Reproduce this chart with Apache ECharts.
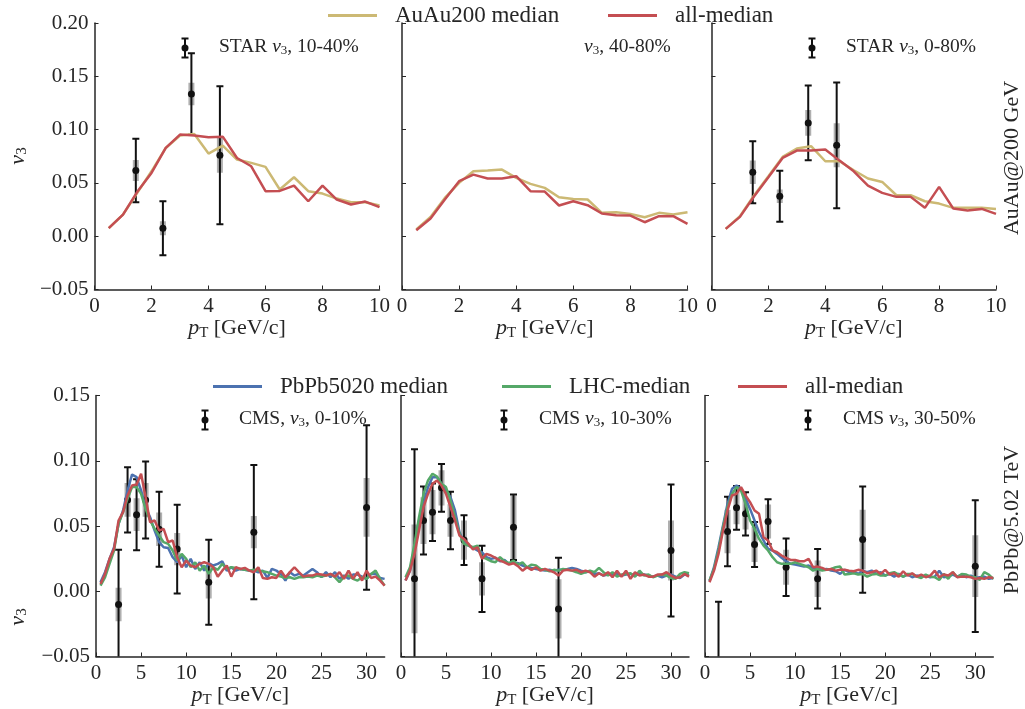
<!DOCTYPE html>
<html>
<head>
<meta charset="utf-8">
<script src="https://cdn.jsdelivr.net/npm/echarts@6/dist/echarts.min.js"></script>
<style>
  html, body { margin: 0; background: #fff; }
  #chart { width: 1025px; height: 709px; }
</style>
</head>
<body>
<div id="chart"></div>
<script>
'use strict';
// DATA
const ptRhic = [0.5, 1, 1.5, 2, 2.5, 3, 3.5, 4, 4.5, 5, 5.5, 6, 6.5, 7, 7.5, 8, 8.5, 9, 9.5, 10];
const auau1040 = [0.0075, 0.0203, 0.0406, 0.0609, 0.0828, 0.0944, 0.0959, 0.0775, 0.0850, 0.0719,
  0.0688, 0.0650, 0.0438, 0.0553, 0.0422, 0.0400, 0.0353, 0.0319, 0.0319, 0.0288];
const all1040 = [0.0075, 0.0203, 0.0416, 0.0594, 0.0828, 0.0953, 0.0944, 0.0928, 0.0934, 0.0734,
  0.0656, 0.0422, 0.0425, 0.0475, 0.0328, 0.0475, 0.0344, 0.0297, 0.0325, 0.0272];
const auau4080 = [0.0063, 0.0181, 0.0359, 0.0500, 0.0609, 0.0616, 0.0625, 0.0547, 0.0491, 0.0453,
  0.0366, 0.0350, 0.0344, 0.0219, 0.0225, 0.0209, 0.0178, 0.0219, 0.0203, 0.0225];
const all4080 = [0.0056, 0.0166, 0.0344, 0.0516, 0.0578, 0.0541, 0.0541, 0.0563, 0.0422, 0.0419,
  0.0288, 0.0328, 0.0291, 0.0213, 0.0197, 0.0194, 0.0131, 0.0188, 0.0188, 0.0116];
const auau080 = [0.0069, 0.0188, 0.0384, 0.0563, 0.0744, 0.0822, 0.0844, 0.0703, 0.0703, 0.0619,
  0.0541, 0.0509, 0.0384, 0.0384, 0.0328, 0.0306, 0.0266, 0.0266, 0.0266, 0.0256];
const all080 = [0.0069, 0.0181, 0.0375, 0.0553, 0.0734, 0.0803, 0.0803, 0.0813, 0.0709, 0.0609,
  0.0475, 0.0406, 0.0369, 0.0369, 0.0266, 0.0463, 0.0259, 0.0241, 0.0256, 0.0209];

const starPt = [1.45, 2.4, 3.4, 4.4];
const star1040 = [0.0616, 0.0075, 0.1334, 0.0759];
const star1040Stat = [0.0298, 0.0253, 0.0383, 0.0647];
const star1040Sys = [0.0098, 0.0066, 0.0106, 0.0164];
const star080 = [0.0600, 0.0375, 0.1063, 0.0853];
const star080Stat = [0.0290, 0.0240, 0.0350, 0.0590];
const star080Sys = [0.0110, 0.0063, 0.0120, 0.0206];

const ptLhc = [0.5, 1, 1.5, 2, 2.5, 3, 3.5, 4, 4.5, 5, 5.5, 6, 6.5, 7, 7.5, 8, 8.5, 9, 9.5, 10,
  10.5, 11, 11.5, 12, 12.5, 13, 13.5, 14, 14.5, 15, 15.5, 16, 16.5, 17, 17.5, 18, 18.5, 19, 19.5, 20,
  20.5, 21, 21.5, 22, 22.5, 23, 23.5, 24, 24.5, 25, 25.5, 26, 26.5, 27, 27.5, 28, 28.5, 29, 29.5, 30,
  30.5, 31, 31.5, 32];
const pb010 = [0.0069, 0.0146, 0.0248, 0.0337, 0.0516, 0.0619, 0.0772, 0.0895, 0.0874, 0.0772,
  0.0644, 0.0567, 0.0465, 0.0376, 0.0337, 0.0332, 0.0261, 0.0222, 0.0274, 0.0184,
  0.0248, 0.0171, 0.0222, 0.0158, 0.0215, 0.0197, 0.0210, 0.0230, 0.0158, 0.0184,
  0.0158, 0.0171, 0.0164, 0.0158, 0.0158, 0.0146, 0.0158, 0.0102, 0.0171, 0.0158,
  0.0133, 0.0082, 0.0146, 0.0120, 0.0133, 0.0120, 0.0146, 0.0171, 0.0146, 0.0107,
  0.0146, 0.0107, 0.0146, 0.0095, 0.0120, 0.0095, 0.0128, 0.0128, 0.0112, 0.0095,
  0.0133, 0.0133, 0.0102, 0.0095];
const lhc010 = [0.0043, 0.0107, 0.0210, 0.0312, 0.0516, 0.0606, 0.0708, 0.0798, 0.0798, 0.0746,
  0.0631, 0.0542, 0.0478, 0.0427, 0.0376, 0.0363, 0.0312, 0.0235, 0.0286, 0.0248,
  0.0184, 0.0222, 0.0158, 0.0197, 0.0133, 0.0184, 0.0164, 0.0210, 0.0171, 0.0184,
  0.0179, 0.0171, 0.0164, 0.0158, 0.0164, 0.0158, 0.0153, 0.0146, 0.0133, 0.0120,
  0.0112, 0.0102, 0.0107, 0.0095, 0.0107, 0.0107, 0.0112, 0.0107, 0.0120, 0.0112,
  0.0120, 0.0133, 0.0107, 0.0069, 0.0112, 0.0120, 0.0095, 0.0082, 0.0107, 0.0095,
  0.0133, 0.0158, 0.0095, 0.0043];
const all010 = [0.0056, 0.0133, 0.0248, 0.0325, 0.0542, 0.0606, 0.0734, 0.0810, 0.0818, 0.0900,
  0.0721, 0.0529, 0.0542, 0.0465, 0.0478, 0.0376, 0.0389, 0.0261, 0.0184, 0.0235,
  0.0197, 0.0184, 0.0210, 0.0222, 0.0210, 0.0184, 0.0112, 0.0158, 0.0197, 0.0112,
  0.0184, 0.0171, 0.0179, 0.0158, 0.0146, 0.0184, 0.0102, 0.0095, 0.0107, 0.0102,
  0.0158, 0.0107, 0.0146, 0.0184, 0.0146, 0.0112, 0.0120, 0.0120, 0.0133, 0.0128,
  0.0120, 0.0133, 0.0112, 0.0146, 0.0095, 0.0158, 0.0095, 0.0146, 0.0082, 0.0158,
  0.0102, 0.0112, 0.0082, 0.0043];
const pb1030 = [0.0082, 0.0158, 0.0337, 0.0542, 0.0670, 0.0798, 0.0874, 0.0874, 0.0823, 0.0772,
  0.0721, 0.0619, 0.0452, 0.0376, 0.0350, 0.0332, 0.0312, 0.0299, 0.0261, 0.0248,
  0.0256, 0.0230, 0.0240, 0.0210, 0.0222, 0.0215, 0.0197, 0.0184, 0.0179, 0.0171,
  0.0164, 0.0158, 0.0164, 0.0158, 0.0164, 0.0164, 0.0171, 0.0179, 0.0171, 0.0158,
  0.0146, 0.0153, 0.0133, 0.0138, 0.0120, 0.0128, 0.0133, 0.0133, 0.0120, 0.0128,
  0.0133, 0.0120, 0.0133, 0.0128, 0.0120, 0.0112, 0.0120, 0.0107, 0.0120, 0.0128,
  0.0112, 0.0102, 0.0128, 0.0120];
const lhc1030 = [0.0107, 0.0184, 0.0363, 0.0567, 0.0746, 0.0849, 0.0900, 0.0879, 0.0823, 0.0798,
  0.0695, 0.0567, 0.0440, 0.0363, 0.0350, 0.0337, 0.0350, 0.0261, 0.0248, 0.0230,
  0.0222, 0.0261, 0.0230, 0.0215, 0.0235, 0.0204, 0.0222, 0.0184, 0.0204, 0.0197,
  0.0171, 0.0164, 0.0153, 0.0164, 0.0158, 0.0171, 0.0164, 0.0158, 0.0146, 0.0133,
  0.0146, 0.0158, 0.0146, 0.0179, 0.0146, 0.0120, 0.0146, 0.0112, 0.0128, 0.0133,
  0.0138, 0.0112, 0.0158, 0.0120, 0.0128, 0.0107, 0.0120, 0.0128, 0.0120, 0.0102,
  0.0095, 0.0133, 0.0146, 0.0138];
const all1030 = [0.0082, 0.0158, 0.0286, 0.0465, 0.0644, 0.0746, 0.0823, 0.0849, 0.0810, 0.0746,
  0.0644, 0.0542, 0.0427, 0.0401, 0.0363, 0.0320, 0.0337, 0.0248, 0.0286, 0.0274,
  0.0256, 0.0235, 0.0222, 0.0204, 0.0215, 0.0192, 0.0158, 0.0184, 0.0164, 0.0184,
  0.0158, 0.0171, 0.0158, 0.0146, 0.0120, 0.0158, 0.0164, 0.0158, 0.0164, 0.0146,
  0.0158, 0.0146, 0.0112, 0.0138, 0.0120, 0.0146, 0.0107, 0.0158, 0.0112, 0.0158,
  0.0095, 0.0146, 0.0120, 0.0128, 0.0112, 0.0112, 0.0128, 0.0128, 0.0146, 0.0120,
  0.0102, 0.0107, 0.0133, 0.0112];
const pb3050 = [0.0077, 0.0184, 0.0337, 0.0504, 0.0670, 0.0785, 0.0810, 0.0785, 0.0708, 0.0631,
  0.0542, 0.0452, 0.0389, 0.0325, 0.0312, 0.0286, 0.0256, 0.0230, 0.0210, 0.0204,
  0.0197, 0.0189, 0.0197, 0.0179, 0.0171, 0.0164, 0.0171, 0.0158, 0.0153, 0.0133,
  0.0164, 0.0146, 0.0153, 0.0133, 0.0158, 0.0146, 0.0158, 0.0133, 0.0146, 0.0120,
  0.0133, 0.0112, 0.0133, 0.0112, 0.0128, 0.0107, 0.0120, 0.0112, 0.0120, 0.0107,
  0.0112, 0.0158, 0.0107, 0.0112, 0.0128, 0.0112, 0.0128, 0.0107, 0.0120, 0.0102,
  0.0107, 0.0112, 0.0095, 0.0102];
const lhc3050 = [0.0082, 0.0171, 0.0312, 0.0491, 0.0644, 0.0746, 0.0798, 0.0772, 0.0670, 0.0542,
  0.0478, 0.0401, 0.0350, 0.0312, 0.0261, 0.0222, 0.0210, 0.0210, 0.0210, 0.0222,
  0.0210, 0.0197, 0.0184, 0.0158, 0.0171, 0.0158, 0.0164, 0.0171, 0.0184, 0.0189,
  0.0128, 0.0133, 0.0138, 0.0128, 0.0133, 0.0112, 0.0128, 0.0133, 0.0120, 0.0120,
  0.0138, 0.0146, 0.0128, 0.0112, 0.0133, 0.0133, 0.0112, 0.0102, 0.0128, 0.0112,
  0.0107, 0.0087, 0.0133, 0.0095, 0.0146, 0.0107, 0.0133, 0.0128, 0.0112, 0.0107,
  0.0087, 0.0146, 0.0128, 0.0095];
const all3050 = [0.0069, 0.0158, 0.0286, 0.0465, 0.0619, 0.0734, 0.0746, 0.0798, 0.0734, 0.0683,
  0.0619, 0.0593, 0.0414, 0.0389, 0.0312, 0.0299, 0.0274, 0.0256, 0.0240, 0.0240,
  0.0230, 0.0230, 0.0248, 0.0184, 0.0189, 0.0179, 0.0164, 0.0171, 0.0158, 0.0164,
  0.0164, 0.0158, 0.0153, 0.0164, 0.0158, 0.0138, 0.0146, 0.0158, 0.0133, 0.0164,
  0.0128, 0.0138, 0.0112, 0.0153, 0.0120, 0.0138, 0.0112, 0.0128, 0.0107, 0.0120,
  0.0158, 0.0107, 0.0128, 0.0120, 0.0146, 0.0107, 0.0112, 0.0112, 0.0107, 0.0095,
  0.0102, 0.0095, 0.0107, 0.0102];

const cmsPt010 = [2.5, 3.5, 4.5, 5.5, 7, 9, 12.5, 17.5, 30];
const cms010 = [-0.0102, 0.0700, 0.0587, 0.0700, 0.0475, 0.0323, 0.0069, 0.0453, 0.0642];
const cms010Stat = [0.0420, 0.0250, 0.0272, 0.0295, 0.0287, 0.0340, 0.0326, 0.0515, 0.0630];
const cms010Sys = [0.0128, 0.0130, 0.0125, 0.0130, 0.0128, 0.0123, 0.0125, 0.0124, 0.0225];
const cmsPt = [1.5, 2.5, 3.5, 4.5, 5.5, 7, 9, 12.5, 17.5, 30];
const cms1030 = [0.0095, 0.0542, 0.0606, 0.0793, 0.0542, 0.0392, 0.0095, 0.0491, -0.0136, 0.0312];
const cms1030Stat = [0.0993, 0.0260, 0.0220, 0.0183, 0.0220, 0.0190, 0.0254, 0.0251, 0.0392, 0.0506];
const cms1030Sys = [0.0417, 0.0179, 0.0170, 0.0135, 0.0125, 0.0150, 0.0128, 0.0243, 0.0227, 0.0230];
const cms3050 = [-0.0750, 0.0458, 0.0639, 0.0593, 0.0358, 0.0534, 0.0184, 0.0095, 0.0396, 0.0192];
const cms3050Stat = [0.0670, 0.0266, 0.0168, 0.0166, 0.0172, 0.0171, 0.0220, 0.0228, 0.0407, 0.0505];
const cms3050Sys = [0.0200, 0.0166, 0.0125, 0.0120, 0.0134, 0.0130, 0.0134, 0.0140, 0.0229, 0.0237];

const rhicXTicks = [0, 2, 4, 6, 8, 10];
const lhcXTicks = [0, 5, 10, 15, 20, 25, 30];
const rhicYTicks = [-0.05, 0, 0.05, 0.1, 0.15, 0.2];
const lhcYTicks = [-0.05, 0, 0.05, 0.1, 0.15];

// STYLE
const FONT = 'Liberation Serif';
const TEXT = '#262626';
const GOLD = '#ccb974';
const RED = '#c44e52';
const BLUE = '#4c72b0';
const GREEN = '#55a868';

const chart = echarts.init(document.getElementById('chart'));

const grids = [
  {left: 94.5, top: 23, width: 285, height: 266.5},
  {left: 402, top: 23, width: 285.5, height: 266.5},
  {left: 711.5, top: 23, width: 284.5, height: 266.5},
  {left: 96, top: 395.5, width: 288.6, height: 261},
  {left: 401, top: 395.5, width: 288, height: 261},
  {left: 705, top: 395.5, width: 288.3, height: 261},
];

const sub = {
  n: {fontFamily: FONT, fontSize: 22, color: TEXT, lineHeight: 24},
  i: {fontFamily: FONT, fontSize: 22, fontStyle: 'italic', color: TEXT, lineHeight: 24},
  s: {fontFamily: FONT, fontSize: 15, color: TEXT, verticalAlign: 'bottom', lineHeight: 12},
};

/**
 * @param {Number} i grid index
 * @return {Object}
 */
function makeXAxis(i) {
  const top = i < 3;
  const ticks = top ? rhicXTicks : lhcXTicks;
  return {
    type: 'value',
    gridIndex: i,
    min: 0,
    max: top ? 10 : 32,
    name: '{i|p}{s|T}{n| [GeV/c]}',
    nameLocation: 'middle',
    nameGap: 22,
    nameTextStyle: {rich: sub},
    axisLine: {onZero: false, lineStyle: {color: TEXT, width: 1.5}},
    axisTick: {inside: true, length: 4, customValues: ticks, lineStyle: {color: TEXT}},
    axisLabel: {
      customValues: ticks, margin: 6,
      fontFamily: FONT, fontSize: 21, color: TEXT,
    },
    splitLine: {show: false},
  };
}

/**
 * @param {Number} i grid index
 * @return {Object}
 */
function makeYAxis(i) {
  const top = i < 3;
  const ticks = top ? rhicYTicks : lhcYTicks;
  return {
    type: 'value',
    gridIndex: i,
    min: -0.05,
    max: top ? 0.2 : 0.15,
    axisLine: {lineStyle: {color: TEXT, width: 1.5}},
    axisTick: {inside: true, length: 4, customValues: ticks, lineStyle: {color: TEXT}},
    axisLabel: {
      show: i % 3 === 0,
      customValues: ticks, margin: 6,
      fontFamily: FONT, fontSize: 21, color: TEXT,
      formatter: (v) => v.toFixed(2).replace('-', '\u2212'),
    },
    splitLine: {show: false},
  };
}

/**
 * @param {Number} i
 * @param {String} name
 * @param {Array} xs
 * @param {Array} ys
 * @param {String} color
 * @return {Object}
 */
function lineSeries(i, name, xs, ys, color) {
  return {
    type: 'line',
    name: name,
    xAxisIndex: i,
    yAxisIndex: i,
    data: xs.map((x, k) => [x, ys[k]]),
    symbol: 'none',
    z: 3,
    lineStyle: {width: 2.5, color: color},
    itemStyle: {color: color},
  };
}

/**
 * @param {Number} i
 * @param {Array} xs
 * @param {Array} ys
 * @param {Array} stat
 * @param {Array} sys
 * @return {Object}
 */
function errorSeries(i, xs, ys, stat, sys) {
  return {
    type: 'custom',
    xAxisIndex: i,
    yAxisIndex: i,
    clip: true,
    z: 2,
    data: xs.map((x, k) => [x, ys[k], stat[k], sys[k]]),
    renderItem: (params, api) => {
      const x = api.value(0);
      const y = api.value(1);
      const s = api.value(2);
      const b = api.value(3);
      const c = api.coord([x, y]);
      const sTop = api.coord([x, y + s])[1];
      const sBot = api.coord([x, y - s])[1];
      const bTop = api.coord([x, y + b])[1];
      const bBot = api.coord([x, y - b])[1];
      const ink = {stroke: '#111', lineWidth: 2};
      return {
        type: 'group',
        children: [
          {type: 'rect', shape: {x: c[0] - 3, y: bTop, width: 6, height: bBot - bTop},
            style: {fill: 'rgba(110,110,110,0.55)'}},
          {type: 'line', shape: {x1: c[0], y1: sTop, x2: c[0], y2: sBot}, style: ink},
          {type: 'line', shape: {x1: c[0] - 3.5, y1: sTop, x2: c[0] + 3.5, y2: sTop}, style: ink},
          {type: 'line', shape: {x1: c[0] - 3.5, y1: sBot, x2: c[0] + 3.5, y2: sBot}, style: ink},
          {type: 'circle', shape: {cx: c[0], cy: c[1], r: 3.5}, style: {fill: '#111'}},
        ],
      };
    },
  };
}

/**
 * legend glyph: a point with an error bar
 * @param {Number} x
 * @param {Number} y
 * @return {Object}
 */
function pointGlyph(x, y) {
  const ink = {stroke: '#111', lineWidth: 2};
  return {
    type: 'group',
    children: [
      {type: 'line', shape: {x1: x, y1: y - 9.5, x2: x, y2: y + 9.5}, style: ink},
      {type: 'line', shape: {x1: x - 3.5, y1: y - 9.5, x2: x + 3.5, y2: y - 9.5}, style: ink},
      {type: 'line', shape: {x1: x - 3.5, y1: y + 9.5, x2: x + 3.5, y2: y + 9.5}, style: ink},
      {type: 'circle', shape: {cx: x, cy: y, r: 3.5}, style: {fill: '#111'}},
    ],
  };
}

const labelRich = {
  n: {fontFamily: FONT, fontSize: 19.5, fill: TEXT, lineHeight: 21},
  i: {fontFamily: FONT, fontSize: 19.5, fontStyle: 'italic', fill: TEXT, lineHeight: 21},
  s: {fontFamily: FONT, fontSize: 13, fill: TEXT, verticalAlign: 'bottom', lineHeight: 9},
};
const bigRich = {
  n: {fontFamily: FONT, fontSize: 22, fill: TEXT, lineHeight: 24},
  i: {fontFamily: FONT, fontSize: 22, fontStyle: 'italic', fill: TEXT, lineHeight: 24},
  s: {fontFamily: FONT, fontSize: 15, fill: TEXT, verticalAlign: 'bottom', lineHeight: 12},
};

/**
 * @param {String} text
 * @param {Number} x
 * @param {Number} y
 * @return {Object}
 */
function textEl(text, x, y) {
  return {
    type: 'text',
    x: x,
    y: y,
    style: {text: text, rich: labelRich, align: 'left', verticalAlign: 'middle'},
  };
}

const legendBase = {
  padding: 0,
  itemWidth: 49,
  itemHeight: 3,
  icon: 'rect',
  selectedMode: false,
  textStyle: {fontFamily: FONT, fontSize: 23, color: TEXT, padding: [0, 0, 0, 13]},
};

const option = {
  animation: false,
  backgroundColor: '#fff',
  grid: grids,
  xAxis: grids.map((g, i) => makeXAxis(i)),
  yAxis: grids.map((g, i) => makeYAxis(i)),
  legend: [
    Object.assign({data: ['AuAu200 median'], left: 328, top: 4}, legendBase),
    Object.assign({data: ['all-median'], left: 608, top: 4}, legendBase),
    Object.assign({data: ['PbPb5020 median'], left: 213, top: 375}, legendBase),
    Object.assign({data: ['LHC-median'], left: 502, top: 375}, legendBase),
    Object.assign({data: ['all-median'], left: 738, top: 375}, legendBase),
  ],
  series: [
    errorSeries(0, starPt, star1040, star1040Stat, star1040Sys),
    lineSeries(0, 'AuAu200 median', ptRhic, auau1040, GOLD),
    lineSeries(0, 'all-median', ptRhic, all1040, RED),
    lineSeries(1, 'AuAu200 median', ptRhic, auau4080, GOLD),
    lineSeries(1, 'all-median', ptRhic, all4080, RED),
    errorSeries(2, starPt, star080, star080Stat, star080Sys),
    lineSeries(2, 'AuAu200 median', ptRhic, auau080, GOLD),
    lineSeries(2, 'all-median', ptRhic, all080, RED),
    errorSeries(3, cmsPt010, cms010, cms010Stat, cms010Sys),
    lineSeries(3, 'PbPb5020 median', ptLhc, pb010, BLUE),
    lineSeries(3, 'LHC-median', ptLhc, lhc010, GREEN),
    lineSeries(3, 'all-median', ptLhc, all010, RED),
    errorSeries(4, cmsPt, cms1030, cms1030Stat, cms1030Sys),
    lineSeries(4, 'PbPb5020 median', ptLhc, pb1030, BLUE),
    lineSeries(4, 'LHC-median', ptLhc, lhc1030, GREEN),
    lineSeries(4, 'all-median', ptLhc, all1030, RED),
    errorSeries(5, cmsPt, cms3050, cms3050Stat, cms3050Sys),
    lineSeries(5, 'PbPb5020 median', ptLhc, pb3050, BLUE),
    lineSeries(5, 'LHC-median', ptLhc, lhc3050, GREEN),
    lineSeries(5, 'all-median', ptLhc, all3050, RED),
  ],
  graphic: [
    pointGlyph(185, 48),
    textEl('{n|STAR }{i|v}{s|3}{n|, 10-40%}', 219, 47),
    textEl('{i|v}{s|3}{n|, 40-80%}', 584, 47),
    pointGlyph(812, 48),
    textEl('{n|STAR }{i|v}{s|3}{n|, 0-80%}', 846, 47),
    pointGlyph(205, 420),
    textEl('{n|CMS, }{i|v}{s|3}{n|, 0-10%}', 239, 419),
    pointGlyph(504, 420),
    textEl('{n|CMS }{i|v}{s|3}{n|, 10-30%}', 539, 419),
    pointGlyph(808, 420),
    textEl('{n|CMS }{i|v}{s|3}{n|, 30-50%}', 843, 419),
    {type: 'text', x: 18, y: 156, rotation: Math.PI / 2,
      style: {text: '{i|v}{s|3}', rich: bigRich, align: 'center', verticalAlign: 'middle'}},
    {type: 'text', x: 18, y: 617, rotation: Math.PI / 2,
      style: {text: '{i|v}{s|3}', rich: bigRich, align: 'center', verticalAlign: 'middle'}},
    {type: 'text', x: 1012, y: 158, rotation: Math.PI / 2,
      style: {text: '{n|AuAu@200 GeV}', rich: bigRich, align: 'center', verticalAlign: 'middle'}},
    {type: 'text', x: 1012, y: 520, rotation: Math.PI / 2,
      style: {text: '{n|PbPb@5.02 TeV}', rich: bigRich, align: 'center', verticalAlign: 'middle'}},
  ],
};

chart.setOption(option);
</script>
</body>
</html>
